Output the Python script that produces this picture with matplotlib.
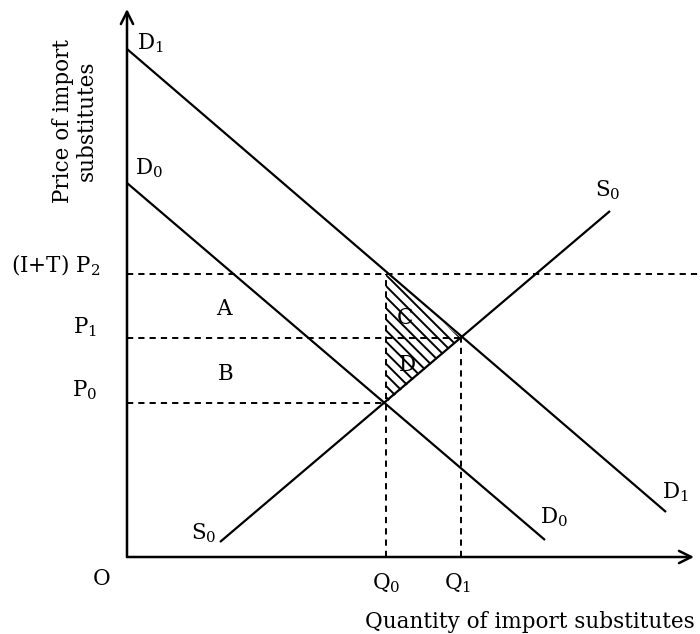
import matplotlib
matplotlib.use("Agg")
import matplotlib.pyplot as plt
from matplotlib.patches import Polygon

plt.rcParams['font.family'] = ['DejaVu Serif']
plt.rcParams['mathtext.fontset'] = 'dejavuserif'
plt.rcParams['hatch.linewidth'] = 1.4

# quantities and prices on the diagram
Q0, Q1 = 259, 334
P0, P1, P2 = 154, 219, 283

# curve end points (quantity, price)
d1_x = [0, 539]
d1_y = [508, 45]
d0_x = [0, 418]
d0_y = [374, 17]
s0_x = [93, 483]
s0_y = [15, 346]

x_max, y_max = 567, 548

fig = plt.figure(figsize=(7, 6.34), dpi=100)
ax = fig.add_axes([0, 0, 1, 1])
ax.set_xlim(-127, 573)
ax.set_ylim(-77, 557)
ax.axis('off')

lw = 1.6
dash = dict(color='black', lw=1.4, dashes=(3.2, 2.6))

# axes with arrows
ax.annotate('', xy=(0, y_max), xytext=(0, 0),
            arrowprops=dict(arrowstyle='->', lw=1.8, color='black', mutation_scale=22, shrinkA=0, shrinkB=0))
ax.annotate('', xy=(x_max, 0), xytext=(0, 0),
            arrowprops=dict(arrowstyle='->', lw=1.8, color='black', mutation_scale=22, shrinkA=0, shrinkB=0))

# dashed guide lines
ax.plot([0, 573], [P2, P2], **dash)
ax.plot([0, Q1], [P1, P1], **dash)
ax.plot([0, Q0], [P0, P0], **dash)
ax.plot([Q0, Q0], [0, P2], **dash)
ax.plot([Q1, Q1], [0, P1], **dash)

# hatched triangle C + D
tri = Polygon([(Q0, P2), (Q1, P1), (Q0, P0)], closed=True, fill=False,
              hatch='\\\\\\', lw=0, edgecolor='black')
ax.add_patch(tri)

# demand and supply curves
ax.plot(d1_x, d1_y, color='black', lw=lw, solid_capstyle='butt')
ax.plot(d0_x, d0_y, color='black', lw=lw, solid_capstyle='butt')
ax.plot(s0_x, s0_y, color='black', lw=lw, solid_capstyle='butt')

fs = 15.5
txt = dict(fontsize=fs, color='black')
ax.text(10, 514, r'$\mathrm{D_1}$', ha='left', va='center', **txt)
ax.text(8, 389, r'$\mathrm{D_0}$', ha='left', va='center', **txt)
ax.text(535, 65, r'$\mathrm{D_1}$', ha='left', va='center', **txt)
ax.text(413, 40, r'$\mathrm{D_0}$', ha='left', va='center', **txt)
ax.text(64, 24, r'$\mathrm{S_0}$', ha='left', va='center', **txt)
ax.text(468, 367, r'$\mathrm{S_0}$', ha='left', va='center', **txt)

ax.text(-116, 292, r'$\mathrm{(I{+}T)\ P_2}$', ha='left', va='center', **txt)
ax.text(-30, 230, r'$\mathrm{P_1}$', ha='right', va='center', **txt)
ax.text(-30, 167, r'$\mathrm{P_0}$', ha='right', va='center', **txt)
ax.text(Q0, -26, r'$\mathrm{Q_0}$', ha='center', va='center', **txt)
ax.text(Q1 - 3, -26, r'$\mathrm{Q_1}$', ha='center', va='center', **txt)
ax.text(-25, -22, 'O', ha='center', va='center', **txt)

ax.text(97, 248, 'A', ha='center', va='center', **txt)
ax.text(99, 183, 'B', ha='center', va='center', **txt)
ax.text(278, 239, 'C', ha='center', va='center', **txt)
ax.text(280, 192, 'D', ha='center', va='center', **txt)

ax.text(568, -65, 'Quantity of import substitutes', ha='right', va='center', **txt)
ax.text(-52, 436, 'Price of import\nsubstitutes', ha='center', va='center',
        rotation=90, multialignment='center', linespacing=1.1, **txt)

fig.savefig('out.png', dpi=100)
